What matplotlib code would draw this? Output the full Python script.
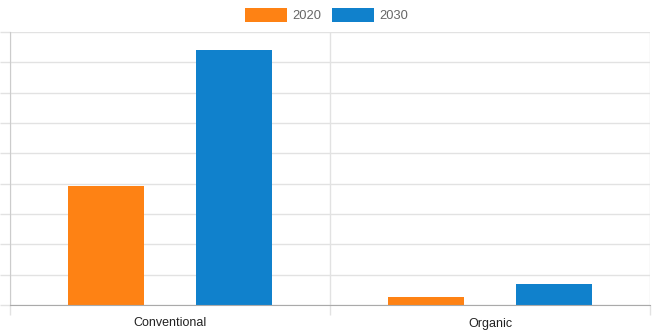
import matplotlib
matplotlib.use("Agg")
import matplotlib.pyplot as plt
import numpy as np

plt.rcParams['font.family'] = ['Liberation Sans', 'DejaVu Sans']

# data (no y labels shown, units = grid steps)
categories = ["Conventional", "Organic"]
series = ["2020", "2030"]
values_2020 = [3.92, 0.26]
values_2030 = [8.41, 0.69]
colors = ["#fe8214", "#1081cc"]

fig = plt.figure(figsize=(6.53, 3.36), dpi=100)
ax = fig.add_axes([10/653, 31/336, 640/653, 273/336])

x = np.arange(len(categories))
w = 0.24
ax.bar(x - 0.2, values_2020, w, color=colors[0], label=series[0], zorder=3)
ax.bar(x + 0.2, values_2030, w, color=colors[1], label=series[1], zorder=3)

ax.set_xlim(-0.5, 1.5)
ax.set_ylim(0, 9)

# grid + ticks
ax.set_yticks(np.arange(0, 10, 1))
ax.set_yticklabels([])
ax.yaxis.grid(True, color="#e2e2e2", linewidth=1, zorder=0)
ax.set_xticks([-0.5, 0.5, 1.5])
ax.set_xticklabels([])
ax.xaxis.grid(True, color="#e2e2e2", linewidth=1, zorder=0)
ax.set_xticks(x, minor=True)
ax.set_xticklabels(categories, minor=True, fontsize=9, color="#222222")
ax.tick_params(axis="x", which="major", length=7.5, color="#e2e2e2", width=1)
ax.tick_params(axis="x", which="minor", length=0, pad=9)
ax.tick_params(axis="y", length=7.5, color="#e2e2e2", width=1)

for s in ["top", "right"]:
    ax.spines[s].set_visible(False)
ax.spines["left"].set_color("#cccccc")
ax.spines["bottom"].set_color("#aaaaaa")
ax.spines["bottom"].set_zorder(4)

fig.legend(loc="upper center", bbox_to_anchor=(0.5, 1.0), ncol=2, frameon=False,
           fontsize=9.3, labelcolor="#666666", handlelength=3.3, handleheight=1.35,
           handletextpad=0.4, columnspacing=0.8, borderaxespad=0.2)

fig.savefig("out.png", dpi=100)
